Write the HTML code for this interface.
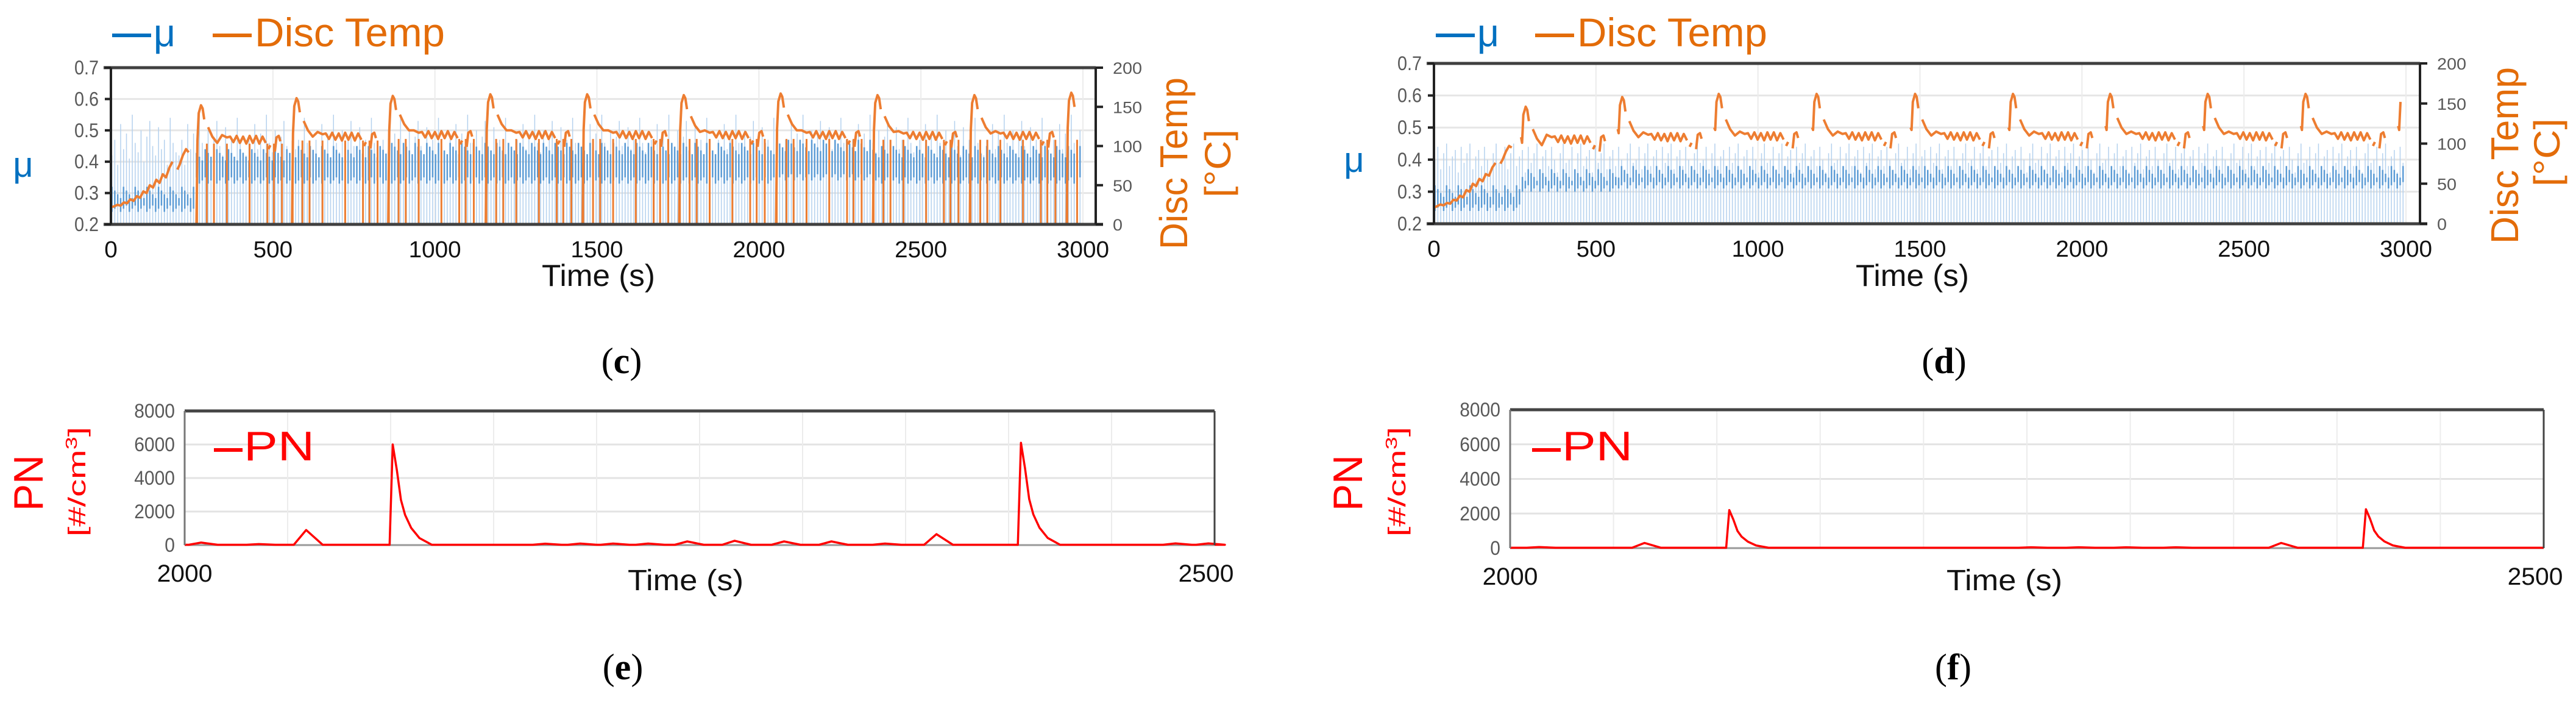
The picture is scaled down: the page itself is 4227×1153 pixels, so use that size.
<!DOCTYPE html>
<html><head><meta charset="utf-8">
<style>
html,body{margin:0;padding:0;background:#fff;}
svg{display:block;}
.tk{font-family:"Liberation Sans",sans-serif;fill:#595959;}
.tx{font-family:"Liberation Sans",sans-serif;fill:#111;}
.rt{font-family:"Liberation Sans",sans-serif;fill:#595959;}
.lab{font-family:"Liberation Serif",serif;fill:#000;}
</style></head>
<body>
<svg id="fig" xmlns="http://www.w3.org/2000/svg" width="4227" height="1153" viewBox="0 0 4227 1153">
<rect x="0" y="0" width="4227" height="1153" fill="#fff"/>
<g id="gc"></g>
<g id="gd"></g>
<g id="ge"></g>
<g id="gf"></g>

<g>
<line x1="184" y1="58" x2="248" y2="58" stroke="#0070c0" stroke-width="6"/>
<text x="252" y="76" font-size="64" fill="#0070c0" font-family="Liberation Sans,sans-serif" textLength="36" lengthAdjust="spacingAndGlyphs">μ</text>
<line x1="349" y1="58" x2="413" y2="58" stroke="#e36c09" stroke-width="6"/>
<text x="418" y="76" font-size="66" fill="#e36c09" font-family="Liberation Sans,sans-serif" textLength="312" lengthAdjust="spacingAndGlyphs">Disc Temp</text>
</g>
<text x="38" y="290" font-size="58" fill="#0070c0" text-anchor="middle" font-family="Liberation Sans,sans-serif">μ</text>
<text transform="translate(1948,268) rotate(-90)" font-size="64" fill="#e36c09" text-anchor="middle" font-family="Liberation Sans,sans-serif" textLength="282" lengthAdjust="spacingAndGlyphs">Disc Temp</text>
<text transform="translate(2019,268) rotate(-90)" font-size="60" fill="#e36c09" text-anchor="middle" font-family="Liberation Sans,sans-serif" textLength="112" lengthAdjust="spacingAndGlyphs">[°C]</text>
<text x="982" y="469" font-size="50" class="tx" text-anchor="middle" textLength="186" lengthAdjust="spacingAndGlyphs">Time (s)</text>
<text x="1020" y="612" font-size="60" class="lab" text-anchor="middle">(<tspan font-weight="bold">c</tspan>)</text>

<g>
<line x1="2356" y1="58" x2="2420" y2="58" stroke="#0070c0" stroke-width="6"/>
<text x="2424" y="76" font-size="64" fill="#0070c0" font-family="Liberation Sans,sans-serif" textLength="36" lengthAdjust="spacingAndGlyphs">μ</text>
<line x1="2519" y1="58" x2="2583" y2="58" stroke="#e36c09" stroke-width="6"/>
<text x="2588" y="76" font-size="66" fill="#e36c09" font-family="Liberation Sans,sans-serif" textLength="312" lengthAdjust="spacingAndGlyphs">Disc Temp</text>
</g>
<text x="2222" y="282" font-size="58" fill="#0070c0" text-anchor="middle" font-family="Liberation Sans,sans-serif">μ</text>
<text transform="translate(4132,255) rotate(-90)" font-size="64" fill="#e36c09" text-anchor="middle" font-family="Liberation Sans,sans-serif" textLength="290" lengthAdjust="spacingAndGlyphs">Disc Temp</text>
<text transform="translate(4200,250) rotate(-90)" font-size="60" fill="#e36c09" text-anchor="middle" font-family="Liberation Sans,sans-serif" textLength="112" lengthAdjust="spacingAndGlyphs">[°C]</text>
<text x="3138" y="469" font-size="50" class="tx" text-anchor="middle" textLength="186" lengthAdjust="spacingAndGlyphs">Time (s)</text>
<text x="3190" y="612" font-size="60" class="lab" text-anchor="middle">(<tspan font-weight="bold">d</tspan>)</text>

<text transform="translate(70,792) rotate(-90)" font-size="68" fill="#ff0000" text-anchor="middle" font-family="Liberation Sans,sans-serif" textLength="92" lengthAdjust="spacingAndGlyphs">PN</text>
<text transform="translate(140,790) rotate(-90)" font-size="40" fill="#ff0000" text-anchor="middle" font-family="Liberation Sans,sans-serif" textLength="180" lengthAdjust="spacingAndGlyphs">[#/cm<tspan font-size="26" dy="-14">3</tspan><tspan dy="14">]</tspan></text>
<g>
<line x1="351" y1="738" x2="398" y2="738" stroke="#ff0000" stroke-width="6"/>
<text x="400" y="755" font-size="68" fill="#ff0000" font-family="Liberation Sans,sans-serif" textLength="116" lengthAdjust="spacingAndGlyphs">PN</text>
</g>
<text x="1125" y="968" font-size="48" class="tx" text-anchor="middle" textLength="190" lengthAdjust="spacingAndGlyphs">Time (s)</text>
<text x="1022" y="1114" font-size="60" class="lab" text-anchor="middle">(<tspan font-weight="bold">e</tspan>)</text>

<text transform="translate(2235,792) rotate(-90)" font-size="68" fill="#ff0000" text-anchor="middle" font-family="Liberation Sans,sans-serif" textLength="92" lengthAdjust="spacingAndGlyphs">PN</text>
<text transform="translate(2306,790) rotate(-90)" font-size="40" fill="#ff0000" text-anchor="middle" font-family="Liberation Sans,sans-serif" textLength="180" lengthAdjust="spacingAndGlyphs">[#/cm<tspan font-size="26" dy="-14">3</tspan><tspan dy="14">]</tspan></text>
<g>
<line x1="2514" y1="738" x2="2561" y2="738" stroke="#ff0000" stroke-width="6"/>
<text x="2563" y="755" font-size="68" fill="#ff0000" font-family="Liberation Sans,sans-serif" textLength="116" lengthAdjust="spacingAndGlyphs">PN</text>
</g>
<text x="3289" y="968" font-size="48" class="tx" text-anchor="middle" textLength="190" lengthAdjust="spacingAndGlyphs">Time (s)</text>
<text x="3205" y="1114" font-size="60" class="lab" text-anchor="middle">(<tspan font-weight="bold">f</tspan>)</text>
</svg>

<script>
// ---------- data: charts c & d ----------
const xTicksCD = [0, 500, 1000, 1500, 2000, 2500, 3000];
const muTicks = [0.2, 0.3, 0.4, 0.5, 0.6, 0.7];
const muTickLabels = ["0.2", "0.3", "0.4", "0.5", "0.6", "0.7"];
const tempTicks = [0, 50, 100, 150, 200];

const preTimes = [0,10,20,30,40,50,60,70,80,90,100,110,120,130,140,150,160,170,180,190];
const preTempC = [22,23,25,24,28,27,32,30,36,34,42,40,50,47,57,53,64,60,72,80];
const preTempD = [20,22,24,23,26,25,30,29,35,33,42,40,50,47,56,53,62,60,70,76];
const midTimes = [205,212,222,232,240];
const midTempC = [70,76,88,96,92];
const midTempD = [75,80,90,97,95];

const peakTimesC = [278,573,870,1171,1470,1768,2067,2366,2665,2964];
const peakTempC = [152,161,164,166,166,165,167,165,165,168];
const decayTempC = [124,132,140,140,140,138,140,138,136,135];
const plateauC = [108,112,114,114,114,114,114,113,113,113];
const dropOffsetsC = [-12,18,40,80,150,205,225,250];

const peakTimesD = [283,581,879,1181,1485,1787,2087,2388,2690,2990];
const peakTempD = [146,158,162,162,162,162,162,162,162,162];
const decayTempD = [118,128,130,130,130,130,132,132,132,132];
const plateauD = [105,108,109,109,109,109,109,109,109,109];

const muSpikeC = [0.42,0.47,0.39,0.52,0.44,0.49,0.41,0.55,0.46,0.43,0.50,0.40,0.48,0.53,0.45,0.42,0.51,0.44,0.47,0.39,0.54,0.46,0.43];
const bandLoC = [0.24,0.33,0.33,0.33,0.33,0.33,0.33,0.34,0.33,0.33,0.33];
const bandHiC = [0.32,0.44,0.45,0.46,0.46,0.46,0.46,0.47,0.45,0.45,0.45];
const muSpikeD = [0.40,0.44,0.37,0.42,0.45,0.38,0.41,0.43,0.36,0.44,0.39,0.42,0.45,0.37,0.41,0.43,0.38,0.44,0.40,0.36,0.42,0.45,0.39];
const bandLoD = [0.24,0.30,0.31,0.31,0.31,0.31,0.31,0.31,0.31,0.31,0.31];
const bandHiD = [0.32,0.37,0.38,0.38,0.38,0.38,0.38,0.38,0.38,0.38,0.38];

// ---------- data: charts e & f ----------
const pnTicks = [0, 2000, 4000, 6000, 8000];
const pnXTicks = [2000, 2500];
const peakTimesE = [2008,2036,2059,2101,2175,2192,2208,2225,2244,2267,2291,2314,2340,2365,2406,2481,2497];
const peakValsE  = [150,60,900,6000,80,90,90,90,220,260,220,220,90,650,6100,100,100];
const peakTimesF = [2014,2065,2106,2252,2275,2298,2322,2373,2414];
const peakValsF  = [60,300,2200,50,50,50,50,300,2250];

const NS = "http://www.w3.org/2000/svg";
function mk(tag, attrs, parent){ const e=document.createElementNS(NS,tag); for(const k in attrs) e.setAttribute(k,attrs[k]); parent.appendChild(e); return e; }
const zig = [4,-3,5,-4,4,-5,5,-4,5,-5,4,-4];

function drawTop(g, geo, d){
  const X = t => geo.x0 + (t/3000)*(geo.x3000-geo.x0);
  const YM = v => geo.bot - (v-0.2)/0.5*(geo.bot-geo.top);
  const YT = T => geo.bot - T/200*(geo.bot-geo.top);
  muTicks.forEach(v=>{ const l=mk('line',{x1:geo.x0,x2:geo.xr,y1:YM(v),y2:YM(v),stroke:'#e6e6e6','stroke-width':3},g);
    
     });
  xTicksCD.forEach(t=>{ if(t===0) return; const l=mk('line',{x1:X(t),x2:X(t),y1:geo.top,y2:geo.bot,stroke:'#ececec','stroke-width':2},g);
    
     });
  let idx=0;
  for(let t=3;t<2995;t+=9){
    let c=0; for(let i=0;i<d.peaks.length;i++){ if(t>=d.peaks[i]-15) c=i+1; }
    const sp=d.spike[idx%d.spike.length];
    const l=mk('line',{x1:X(t),x2:X(t),y1:YM(0.2),y2:YM(sp),stroke:'#b4d1ee','stroke-width':1.5},g);
    
    
    const lo=d.lo[c]+ (idx%3)*0.01, hi=d.hi[c]-(idx%4)*0.012;
    const b=mk('line',{x1:X(t),x2:X(t),y1:YM(lo),y2:YM(hi),stroke:'#5b9bd5','stroke-width':2.5},g);
    
    
    idx++;
  }
  const segs=[];
  segs.push(preTimes.map((t,i)=>[t,d.pre[i]]));
  segs.push(midTimes.map((t,i)=>[t,d.mid[i]]));
  d.peaks.forEach((P,i)=>{
    const Tp=d.ptemp[i], Ts=d.decay[i], Tl=d.plat[i];
    segs.push([[P-14,d.dropC?0:Ts-10],[P-11,Tp-45],[P-7,Tp-10],[P,Tp],[P+5,Tp-4],[P+10,Tp-18]]);
    const s=[[P+22,Ts],[P+35,Ts-12],[P+50,Ts-20],[P+65,Tl+6],[P+80,Tl+3]];
    for(let k=0;k<12;k++) s.push([P+90+k*10,Tl+zig[k]]);
    segs.push(s);
    segs.push([[P+208,Tl-12],[P+214,Tl-7]]);
    segs.push([[P+228,Tl-15],[P+233,Tl+3],[P+240,Tl+5],[P+245,Tl-2]]);
  });
  segs.forEach(s=>{
    const pts=s.filter(p=>p[0]>=0&&p[0]<=2985).map(p=>X(p[0]).toFixed(1)+','+YT(p[1]).toFixed(1)).join(' ');
    if(!pts) return;
    const pl=mk('polyline',{points:pts,fill:'none',stroke:'#ed7d31','stroke-width':4,'stroke-linejoin':'round'},g);
    
    
  });
  if(d.dropC){
    d.peaks.forEach((P,i)=>{ dropOffsetsC.forEach(o=>{ const t=P+o; if(t<0||t>2985) return;
      const l=mk('line',{x1:X(t),x2:X(t),y1:YT(0),y2:YT(d.plat[i]-5),stroke:'#ed7d31','stroke-width':3},g);
      
       }); });
  }
  mk('line',{x1:geo.x0-12,x2:geo.xr,y1:geo.top,y2:geo.top,stroke:'#404040','stroke-width':5},g);
  mk('line',{x1:geo.x0-12,x2:geo.xr+12,y1:geo.bot,y2:geo.bot,stroke:'#404040','stroke-width':5},g);
  mk('line',{x1:geo.x0,x2:geo.x0,y1:geo.top,y2:geo.bot,stroke:'#222','stroke-width':4},g);
  mk('line',{x1:geo.xr,x2:geo.xr,y1:geo.top,y2:geo.bot,stroke:'#222','stroke-width':4},g);
  muTicks.forEach((v,i)=>{ mk('line',{x1:geo.x0-10,x2:geo.x0,y1:YM(v),y2:YM(v),stroke:'#222','stroke-width':4},g);
    const t=mk('text',{x:geo.x0-20,y:YM(v)+11,'font-size':32,'text-anchor':'end',class:'tk',textLength:40,lengthAdjust:'spacingAndGlyphs'},g); t.textContent=muTickLabels[i];
    
     });
  tempTicks.forEach(v=>{ mk('line',{x1:geo.xr,x2:geo.xr+12,y1:YT(v),y2:YT(v),stroke:'#222','stroke-width':4},g);
    const s=String(v);
    const t=mk('text',{x:geo.xr+28,y:YT(v)+10,'font-size':27,'text-anchor':'start',class:'rt',textLength:16*s.length,lengthAdjust:'spacingAndGlyphs'},g); t.textContent=s;
    
     });
  xTicksCD.forEach(v=>{ const s=String(v);
    const t=mk('text',{x:X(v),y:geo.bot+54,'font-size':38,'text-anchor':'middle',class:'tx',textLength:21.5*s.length,lengthAdjust:'spacingAndGlyphs'},g); t.textContent=s;
    
     });
}

drawTop(document.getElementById('gc'),{x0:182,x3000:1777,xr:1798,top:111,bot:368},
  {pre:preTempC,mid:midTempC,peaks:peakTimesC,ptemp:peakTempC,decay:decayTempC,plat:plateauC,spike:muSpikeC,lo:bandLoC,hi:bandHiC,dropC:true});
drawTop(document.getElementById('gd'),{x0:2353,x3000:3948,xr:3971,top:104,bot:367},
  {pre:preTempD,mid:midTempD,peaks:peakTimesD,ptemp:peakTempD,decay:decayTempD,plat:plateauD,spike:muSpikeD,lo:bandLoD,hi:bandHiD,dropC:false});

function drawPN(g, geo, times, vals){
  const X = t => geo.x0 + (t-2000)/500*(geo.x1-geo.x0);
  const Y = v => geo.bot - v/8000*(geo.bot-geo.top);
  pnTicks.forEach(v=>{ if(v>0&&v<8000){ const l=mk('line',{x1:geo.x0,x2:geo.x1,y1:Y(v),y2:Y(v),stroke:'#e3e3e3','stroke-width':3},g);
    
     } });
  for(let t=2050;t<2500;t+=50){ const l=mk('line',{x1:X(t),x2:X(t),y1:geo.top,y2:geo.bot,stroke:'#ececec','stroke-width':2},g);
    
     }
  mk('line',{x1:geo.x0,x2:geo.x1,y1:geo.bot,y2:geo.bot,stroke:'#999','stroke-width':3},g);
  const pts=[[2000,20]];
  times.forEach((t,i)=>{ const v=vals[i];
    if(v>1500){ pts.push([t-1.5,20],[t,v],[t+2,v*0.75],[t+4,v*0.45],[t+6,v*0.3],[t+9,v*0.17],[t+13,v*0.07],[t+19,20]); }
    else { pts.push([t-6,20],[t,v],[t+8,20]); } });
  pts.push([2500,20]);
  const pl=mk('polyline',{points:pts.map(p=>X(p[0]).toFixed(1)+','+Y(p[1]).toFixed(1)).join(' '),fill:'none',stroke:'#ff0000','stroke-width':3.5,'stroke-linejoin':'round'},g);
  
  
  mk('line',{x1:geo.x0,x2:geo.x1,y1:geo.top,y2:geo.top,stroke:'#444','stroke-width':5},g);
  mk('line',{x1:geo.x0,x2:geo.x0,y1:geo.top,y2:geo.bot,stroke:'#777','stroke-width':3},g);
  mk('line',{x1:geo.x1,x2:geo.x1,y1:geo.top,y2:geo.bot,stroke:'#444','stroke-width':3},g);
  pnTicks.forEach(v=>{ const s=String(v);
    const t=mk('text',{x:geo.x0-16,y:Y(v)+11,'font-size':32,'text-anchor':'end',class:'tk',textLength:16.7*s.length,lengthAdjust:'spacingAndGlyphs'},g); t.textContent=s;
    
     });
  pnXTicks.forEach(v=>{ const s=String(v);
    const t=mk('text',{x:X(v)-(v===2500?14:0),y:geo.bot+60,'font-size':40,'text-anchor':'middle',class:'tx',textLength:22.7*s.length,lengthAdjust:'spacingAndGlyphs'},g); t.textContent=s;
    
     });
}
drawPN(document.getElementById('ge'),{x0:303,x1:1993,top:674,bot:894},peakTimesE,peakValsE);
drawPN(document.getElementById('gf'),{x0:2478,x1:4174,top:672,bot:899},peakTimesF,peakValsF);
</script>
</body></html>
